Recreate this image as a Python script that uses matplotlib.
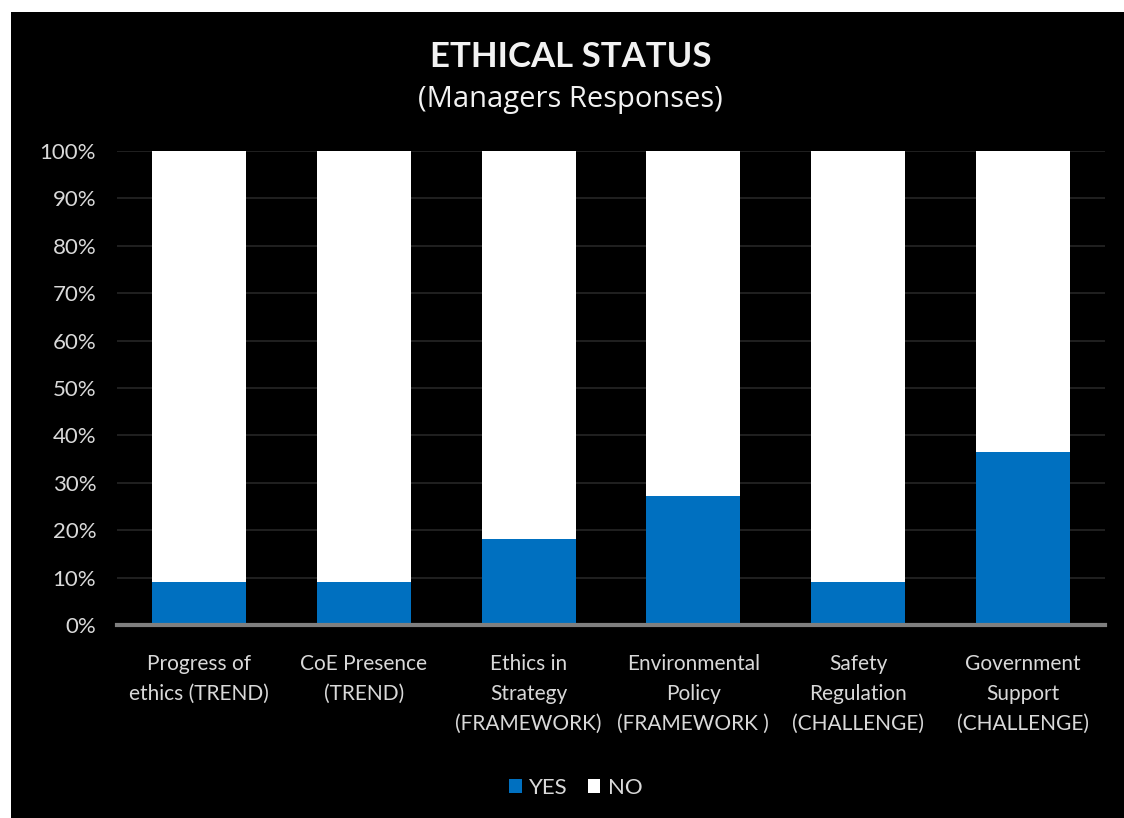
import matplotlib
matplotlib.use("Agg")
import matplotlib.pyplot as plt
from matplotlib.patches import Rectangle, Patch

# Share of managers answering YES / NO per topic (percent).
CATEGORIES = [
    "Progress of\nethics (TREND)",
    "CoE Presence\n(TREND)",
    "Ethics in\nStrategy\n(FRAMEWORK)",
    "Environmental\nPolicy\n(FRAMEWORK )",
    "Safety\nRegulation\n(CHALLENGE)",
    "Government\nSupport\n(CHALLENGE)",
]
YES = [9.1, 9.1, 18.2, 27.3, 9.1, 36.4]
NO = [100 - v for v in YES]
Y_TICKS = list(range(0, 101, 10))

BLUE = "#0070C0"
TEXT = "#d9d9d9"
GRID = "#262626"
AXIS = "#7f7f7f"
W, H = 1124, 818

plt.rcParams["font.family"] = ["Lato", "DejaVu Sans"]

fig = plt.figure(figsize=(W / 100, H / 100), dpi=100)
fig.patch.set_facecolor("white")
# black panel inside a thin white border on the left and top
fig.patches.append(Rectangle((11 / W, 0), 1 - 11 / W, 1 - 12 / H,
                             transform=fig.transFigure, facecolor="black",
                             edgecolor="none", zorder=-5))

ax = fig.add_axes([117 / W, 1 - 625 / H, 988 / W, 474 / H])
ax.set_zorder(2)
ax.set_facecolor("black")

x = range(len(CATEGORIES))
ax.bar(x, YES, width=0.57, color=BLUE, label="YES", zorder=2)
ax.bar(x, NO, width=0.57, bottom=YES, color="white", label="NO", zorder=2)

ax.set_xlim(-0.5, len(CATEGORIES) - 0.5)
ax.set_ylim(0, 100)
ax.set_yticks(Y_TICKS)
ax.set_yticklabels([f"{t}%" for t in Y_TICKS])
ax.set_xticks(list(x))
ax.set_xticklabels(CATEGORIES, linespacing=1.62)

ax.yaxis.grid(True, color=GRID, linewidth=1.2)
ax.set_axisbelow(True)
for side in ("top", "right", "left"):
    ax.spines[side].set_visible(False)
ax.spines["bottom"].set_color(AXIS)
ax.spines["bottom"].set_linewidth(3)
ax.spines["bottom"].set_zorder(3)
ax.tick_params(axis="y", length=0, pad=15, labelsize=16, labelcolor=TEXT)
ax.tick_params(axis="x", length=0, pad=21, labelsize=15, labelcolor=TEXT)

fig.text(571 / W, 1 - 57 / H, "ETHICAL STATUS", ha="center", va="center",
         fontsize=25, fontweight="bold", color="#f2f2f2", zorder=3)
fig.text(570 / W, 1 - 100 / H, "(Managers Responses)", ha="center",
         va="center", fontsize=21, color="#f2f2f2", zorder=3,
         family=["Open Sans", "DejaVu Sans"])

handles = [Patch(facecolor=BLUE, label="YES"), Patch(facecolor="white", label="NO")]
leg = fig.legend(handles=handles, loc="center",
                 bbox_to_anchor=(576 / W, 1 - 788 / H),
                 ncol=2, frameon=False, fontsize=16, labelcolor=TEXT,
                 handlelength=0.55, handleheight=0.55, handletextpad=0.35,
                 columnspacing=0.9)
leg.set_zorder(3)

fig.savefig("out.png", dpi=100, facecolor=fig.get_facecolor())
